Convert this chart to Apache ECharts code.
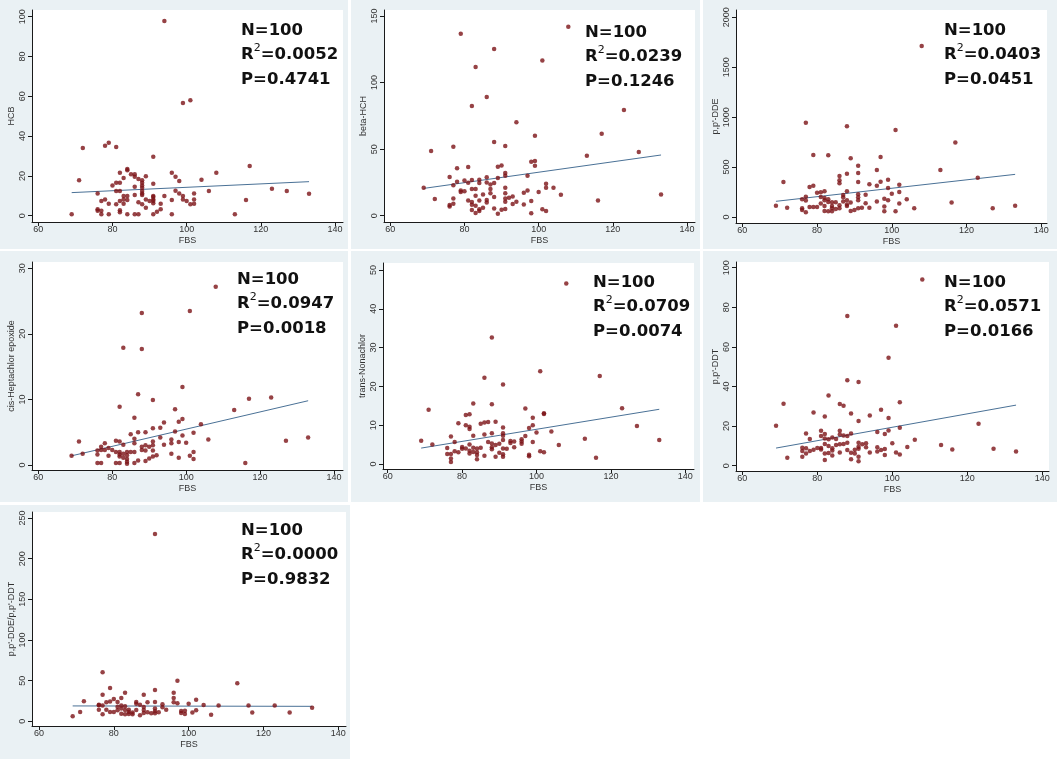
<!DOCTYPE html>
<html><head><meta charset="utf-8">
<script src="https://cdn.jsdelivr.net/npm/echarts@6/dist/echarts.min.js"></script>
<style>html,body{margin:0;padding:0;background:#fff}#c{width:1057px;height:759px}</style>
</head><body><div id="c"></div>
<script>
// ---------- DATA ----------
const xTicks = [60, 80, 100, 120, 140];
const xName = 'FBS';
const yNames = ['HCB', 'beta-HCH', "p,p'-DDE", 'cis-Heptachlor epoxide', 'trans-Nonachlor', "p,p'-DDT", "p,p'-DDE/p,p'-DDT"];
const yTicks = [
  [0, 20, 40, 60, 80, 100],
  [0, 50, 100, 150],
  [0, 500, 1000, 1500, 2000],
  [0, 10, 20, 30],
  [0, 10, 20, 30, 40, 50],
  [0, 20, 40, 60, 80, 100],
  [0, 50, 100, 150, 200, 250]
];
const statN = ['100', '100', '100', '100', '100', '100', '100'];
const statR2 = ['0.0052', '0.0239', '0.0403', '0.0947', '0.0709', '0.0571', '0.0000'];
const statP = ['0.4741', '0.1246', '0.0451', '0.0018', '0.0074', '0.0166', '0.9832'];

const hcb = [[69,0.7],[71,17.8],[72,34],[76,11.2],[76,3.2],[76,2.5],[77,7.4],[77,2.5],[77,0.7],[78,35.2],[78,8.2],[79,36.7],[79,6],[79,0.7],[80,15.2],[81,34.5],[81,16.6],[81,12.4],[81,5.7],[82,21.6],[82,16.6],[82,12.4],[82,7.4],[82,2.8],[82,1.7],[83,19],[83,9.9],[83,8.2],[83,6],[84,23.5],[84,22.8],[84,9.9],[84,7.9],[84,0.7],[85,20.8],[86,20.8],[86,19.6],[86,14.6],[86,10.4],[86,0.7],[87,18.4],[87,6.7],[87,0.7],[88,17.8],[88,16.6],[88,15.2],[88,14.1],[88,12.4],[88,11.2],[88,10.4],[88,5.7],[89,19.8],[89,8.2],[89,4],[90,7.4],[91,29.6],[91,16.1],[91,9.9],[91,9.4],[91,8.2],[91,7.4],[91,6.2],[91,0.7],[92,2],[93,6],[93,3.2],[94,97.8],[94,9.9],[96,21.6],[96,7.9],[96,0.7],[97,19.6],[97,12.6],[98,17.4],[98,11.2],[99,56.6],[99,9.9],[99,8.2],[100,7.4],[101,58],[101,5.7],[102,11.2],[102,8.2],[102,6],[104,18.1],[106,12.4],[108,21.6],[113,0.7],[116,7.9],[117,25],[123,13.6],[127,12.4],[133,11]];
const betaHCH = [[69,21],[71,48.6],[72,12.5],[76,29],[76,7],[76,8],[77,51.8],[77,22.8],[77,13],[77,9],[78,35.6],[78,25.5],[79,136.7],[79,19],[79,17.8],[80,26.5],[80,18.3],[81,36.6],[81,24.8],[81,11.5],[82,82.4],[82,26.8],[82,20],[82,10.3],[82,8.3],[82,4.3],[83,111.7],[83,20],[83,15],[83,7.5],[83,2],[84,27],[84,24.5],[84,11.5],[84,4.8],[84,3.5],[85,16],[85,6],[86,89.2],[86,28.8],[86,25],[86,11.8],[86,10],[87,23.5],[87,20],[87,16.8],[88,125.2],[88,55.3],[88,24.5],[88,14],[88,5.5],[89,36.8],[89,28.3],[89,1.5],[90,37.8],[90,4.5],[91,52.3],[91,32],[91,30],[91,21],[91,16.8],[91,13],[91,10.5],[91,5],[92,13.5],[93,14.5],[93,8.8],[94,70.1],[94,10.5],[96,17.3],[96,8.5],[97,30],[97,19],[98,40.6],[98,11],[98,1.8],[99,60.1],[99,41],[99,37.6],[100,17.8],[101,116.5],[101,4.8],[102,24],[102,21],[102,3.5],[104,21],[106,15.8],[108,142],[113,45.1],[116,11.5],[117,61.6],[123,79.4],[127,47.8],[133,16]];
const ppDDE = [[69,113],[71,350],[72,93],[76,177],[76,87],[76,70],[77,945],[77,204],[77,164],[77,47],[78,300],[78,100],[79,621],[79,314],[79,100],[80,244],[80,100],[81,247],[81,200],[81,134],[82,257],[82,190],[82,167],[82,110],[82,60],[83,618],[83,177],[83,150],[83,57],[84,147],[84,110],[84,87],[84,57],[85,147],[85,80],[86,410],[86,367],[86,337],[86,117],[86,87],[87,220],[87,197],[87,154],[88,908],[88,434],[88,257],[88,167],[88,124],[88,110],[89,588],[89,144],[89,60],[90,70],[91,514],[91,441],[91,350],[91,227],[91,197],[91,167],[91,87],[92,93],[93,224],[93,137],[94,327],[94,93],[96,471],[96,314],[96,154],[97,601],[97,354],[98,184],[98,104],[98,57],[99,374],[99,290],[99,167],[100,234],[101,871],[101,57],[102,324],[102,250],[102,134],[104,177],[106,87],[108,1713],[113,471],[116,144],[117,745],[123,394],[127,87],[133,113]];
const cisHept = [[69,1.4],[71,3.6],[72,1.7],[76,2.2],[76,1.6],[76,0.3],[77,2.8],[77,2.3],[77,0.3],[78,3.3],[78,2.3],[79,2.6],[79,1.4],[80,2.3],[81,3.7],[81,2],[81,0.3],[82,8.9],[82,3.6],[82,2],[82,1.6],[82,1.3],[82,0.3],[83,17.9],[83,3.1],[83,1.7],[83,1.1],[84,2],[84,1.5],[84,0.9],[84,0.5],[84,0.2],[85,4.7],[85,2],[86,7.2],[86,4],[86,3.3],[86,2],[86,0.3],[87,10.8],[87,5],[87,0.7],[88,23.2],[88,17.7],[88,2.8],[88,2.3],[89,5],[89,3],[89,2.2],[89,0.6],[90,2.8],[90,1],[91,9.9],[91,5.6],[91,3.6],[91,3],[91,2.2],[91,1.3],[92,1.5],[93,5.7],[93,4.2],[94,6.5],[94,3.1],[96,3.9],[96,3.3],[96,1.7],[97,8.5],[97,5.1],[98,6.6],[98,3.5],[98,1.1],[99,11.9],[99,7],[99,4.5],[100,3.4],[101,23.5],[101,1.4],[102,4.9],[102,2],[102,0.9],[104,6.2],[106,3.9],[108,27.2],[113,8.4],[116,0.3],[117,10.1],[123,10.3],[127,3.7],[133,4.2]];
const transNona = [[69,6],[71,14],[72,5],[76,4.1],[76,2.6],[77,7.1],[77,2.6],[77,1.4],[77,0.5],[78,5.7],[78,3.3],[79,10.5],[79,3],[80,4.4],[80,3.9],[81,12.6],[81,10],[81,4],[82,12.8],[82,9.6],[82,9],[82,5],[82,3.4],[82,2.7],[83,15.6],[83,7.3],[83,4.2],[83,3.1],[84,4],[84,3],[84,2.3],[84,1.2],[85,10.4],[85,4.2],[86,22.2],[86,10.7],[86,7.6],[86,2.1],[87,10.8],[87,5.7],[88,32.6],[88,15.4],[88,7.9],[88,5.3],[88,4.3],[88,3.8],[89,10.9],[89,4.9],[89,1.9],[90,5.2],[90,2.9],[91,20.5],[91,9.4],[91,7.9],[91,7.3],[91,6.2],[91,4],[91,2.5],[91,1.9],[92,3.9],[93,5.9],[93,5.4],[94,5.8],[94,4.3],[96,6.4],[96,5.8],[96,5.2],[97,14.3],[97,7.2],[98,9.3],[98,2.4],[98,2],[99,11.9],[99,10],[99,5.7],[100,8.1],[101,23.9],[101,3.3],[102,13.1],[102,12.9],[102,3],[104,8.4],[106,4.9],[108,46.5],[113,6.5],[116,1.6],[117,22.7],[123,14.4],[127,9.8],[133,6.2]];
const ppDDT = [[69,20.2],[71,31.3],[72,4],[76,9.1],[76,7.4],[76,4.5],[77,16.3],[77,8.8],[77,6.1],[78,13.5],[78,7.4],[79,26.9],[79,8.1],[80,8.9],[81,17.7],[81,15],[81,8.9],[81,8.2],[82,24.9],[82,16],[82,13.8],[82,10.9],[82,6.2],[82,2.9],[83,35.5],[83,13.3],[83,9.9],[83,6.4],[84,14.3],[84,8.8],[84,7.7],[84,5.1],[85,13.5],[85,10.4],[86,31.1],[86,17.7],[86,15.8],[86,10.8],[86,6.7],[87,30.3],[87,15.2],[87,10.9],[88,75.6],[88,43.1],[88,15],[88,11.6],[88,7.9],[89,26.4],[89,16.3],[89,6.6],[89,3.2],[90,8.1],[90,6.1],[91,42.3],[91,22.6],[91,11.6],[91,9.6],[91,8.6],[91,4.5],[91,2.2],[92,10.8],[93,11.3],[93,9.3],[94,25.3],[94,6.7],[96,17],[96,9.3],[96,7.2],[97,28.3],[97,7.9],[98,16],[98,8.4],[98,5.4],[99,54.5],[99,24.1],[99,17.8],[100,11.3],[101,70.7],[101,6.7],[102,32],[102,19.2],[102,5.7],[104,9.4],[106,13.1],[108,94.1],[113,10.4],[116,8.2],[123,21.2],[127,8.6],[133,7.2]];
const ratioDDEDDT = [[69,6.1],[71,11.5],[72,24.6],[76,20.5],[76,19.7],[76,14.3],[77,60.2],[77,32.8],[77,19.3],[77,8.6],[78,23.4],[78,14.3],[79,41],[79,24.2],[79,11.5],[80,27.5],[80,11.5],[81,23.8],[81,18],[81,13.5],[82,28.7],[82,19.3],[82,15.6],[82,9.4],[83,35.2],[83,18.4],[83,13.9],[83,8.6],[84,14.3],[84,11.5],[84,9],[85,10.7],[85,8.6],[86,23.8],[86,21.7],[86,13.9],[87,20.5],[87,7.4],[88,32.8],[88,17.6],[88,13.9],[88,10.2],[89,23.4],[89,11.1],[90,9.8],[91,230.3],[91,38.5],[91,23.8],[91,15.6],[91,12.3],[91,9.8],[92,11.1],[93,20.9],[93,17.2],[94,14.3],[96,35.2],[96,28.7],[96,23.4],[97,50],[97,22.1],[98,12.7],[98,10.2],[99,13.1],[99,9],[100,21.7],[101,10.7],[102,26.6],[102,13.5],[104,20.1],[106,8.2],[108,19.3],[113,46.7],[116,19.3],[117,10.7],[123,19.3],[127,10.7],[133,16.8]];

const fit1 = [[69,11.6],[133,17.1]];
const fit2 = [[69,20.5],[133,45.6]];
const fit3 = [[69,157],[133,427]];
const fit4 = [[69,1.4],[133,9.8]];
const fit5 = [[69,4.1],[133,14.1]];
const fit6 = [[69,8.9],[133,30.6]];
const fit7 = [[69,18.9],[133,18.4]];

const scatterData = [hcb, betaHCH, ppDDE, cisHept, transNona, ppDDT, ratioDDEDDT];
const fitData = [fit1, fit2, fit3, fit4, fit5, fit6, fit7];

// ---------- LAYOUT (pixels) ----------
const layout = [
  {L:32,  R:343,  T:10,  B:222, x60:38.3,  x140:335,    y0:215.7, yTop:16.7,  bg:[0,0,348,249],   tx:236, ty:13},
  {L:384, R:695,  T:10,  B:222, x60:390.3, x140:687,    y0:215.7, yTop:16,    bg:[351,0,349,249], tx:580, ty:15},
  {L:736, R:1047, T:10,  B:223, x60:742.3, x140:1041.3, y0:217,   yTop:17.3,  bg:[703,0,354,249], tx:939, ty:13},
  {L:32,  R:343,  T:262, B:470, x60:38.3,  x140:334,    y0:465,   yTop:268.3, bg:[0,251,348,251], tx:232, ty:262},
  {L:383, R:694,  T:263, B:469, x60:387.7, x140:685.3,  y0:464,   yTop:270,   bg:[351,251,349,251], tx:588, ty:265},
  {L:736, R:1049, T:262, B:471, x60:742.3, x140:1042.3, y0:465.7, yTop:267.7, bg:[703,251,354,251], tx:939, ty:265},
  {L:32,  R:346,  T:512, B:726, x60:39,    x140:338.3,  y0:721.3, yTop:518,   bg:[0,505,350,254], tx:236, ty:513}
];

const grids = [], xAxes = [], yAxes = [], series = [], titles = [], graphics = [];
const axisColor = '#1a1a1a', labelColor = '#333';
layout.forEach((p, i) => {
  const topVal = yTicks[i][yTicks[i].length - 1];
  const sx = (p.x140 - p.x60) / 80;
  const sy = (p.y0 - p.yTop) / topVal;
  const xmin = 60 - (p.x60 - p.L) / sx, xmax = 140 + (p.R - p.x140) / sx;
  const ymin = -(p.B - p.y0) / sy, ymax = topVal + (p.yTop - p.T) / sy;
  graphics.push({type:'rect', z:-10, shape:{x:p.bg[0], y:p.bg[1], width:p.bg[2], height:p.bg[3]}, style:{fill:'#eaf1f4'}, silent:true});
  grids.push({left:p.L, top:p.T, width:p.R - p.L, height:p.B - p.T, show:true, backgroundColor:'#ffffff', borderWidth:0, containLabel:false});
  xAxes.push({
    gridIndex:i, type:'value', min:xmin, max:xmax,
    name:xName, nameLocation:'middle', nameGap:14,
    nameTextStyle:{fontSize:9, color:labelColor, fontFamily:'Liberation Sans'},
    axisLine:{show:true, onZero:false, lineStyle:{color:axisColor, width:1}},
    axisTick:{show:true, length:4, customValues:xTicks, lineStyle:{color:axisColor}},
    axisLabel:{show:true, customValues:xTicks, fontSize:9, margin:3, color:labelColor, fontFamily:'Liberation Sans', formatter:v => String(v)},
    splitLine:{show:false}
  });
  yAxes.push({
    gridIndex:i, type:'value', min:ymin, max:ymax,
    name:yNames[i], nameLocation:'middle', nameGap:16, nameRotate:90,
    nameTextStyle:{fontSize:9, color:labelColor, fontFamily:'Liberation Sans'},
    axisLine:{show:true, onZero:false, lineStyle:{color:axisColor, width:1}},
    axisTick:{show:true, length:4, customValues:yTicks[i], lineStyle:{color:axisColor}},
    axisLabel:{show:true, customValues:yTicks[i], rotate:90, fontSize:9, margin:5, color:labelColor, fontFamily:'Liberation Sans', formatter:v => String(v)},
    splitLine:{show:false}
  });
  series.push({
    type:'scatter', xAxisIndex:i, yAxisIndex:i, data:scatterData[i],
    symbol:'circle', symbolSize:4.5, itemStyle:{color:'#7c1317'}, z:3
  });
  series.push({
    type:'line', xAxisIndex:i, yAxisIndex:i, data:fitData[i],
    symbol:'none', lineStyle:{color:'#4a7196', width:1}, z:2
  });
  titles.push({
    left:p.tx, top:p.ty,
    text:'N=' + statN[i] + '\nR{s|2}=' + statR2[i] + '\nP=' + statP[i],
    textStyle:{fontFamily:'DejaVu Sans', fontWeight:'bold', fontSize:16.5, lineHeight:24.5, color:'#111',
      rich:{s:{fontFamily:'DejaVu Sans', fontWeight:'normal', fontSize:11, color:'#111', verticalAlign:'top', lineHeight:17}}}
  });
});

const chart = echarts.init(document.getElementById('c'), null, {renderer:'canvas'});
chart.setOption({
  animation:false,
  backgroundColor:'#ffffff',
  title:titles,
  grid:grids, xAxis:xAxes, yAxis:yAxes, series:series,
  graphic:graphics
});
</script></body></html>
